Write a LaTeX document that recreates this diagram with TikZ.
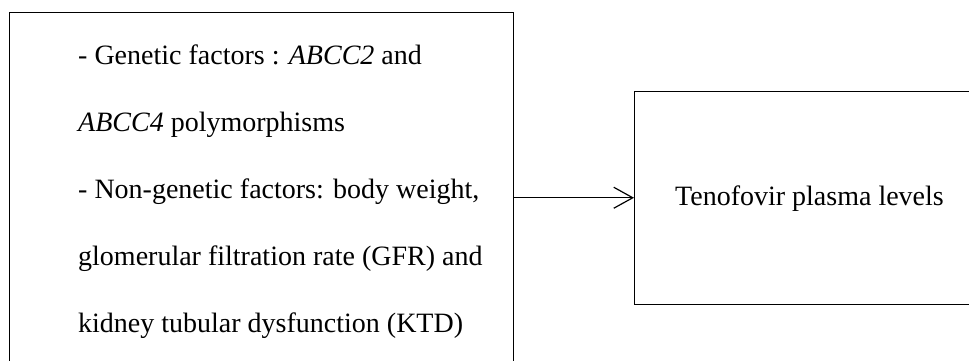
\documentclass[tikz,border=0pt]{standalone}
\usepackage{fontspec}
\setmainfont{Liberation Serif}
\usetikzlibrary{arrows.meta}
\begin{document}
\begin{tikzpicture}[x=1pt,y=-1pt,
  boxshape/.style={draw=black, line width=1pt, rectangle, inner sep=0pt},
  bodytext/.style={font=\fontsize{28}{67}\selectfont},
  flowarrow/.style={draw=black, line width=1.2pt, -{Straight Barb[length=19pt,width=21pt,line width=1.2pt]}}]
\useasboundingbox (0,0) rectangle (969,360);
\clip (0,0) rectangle (969,360);
\node[boxshape, anchor=north west, minimum width=504pt, minimum height=370pt] (factors) at (8.5,12) {};
\node[bodytext, anchor=base west, align=flush left, text width=430pt, inner sep=0pt] (factortext) at (78,64)
  {- Genetic factors : \textit{ABCC2} and\\
   \textit{ABCC4} polymorphisms\\
   - Non-genetic factors: body weight,\\
   glomerular filtration rate (GFR) and\\
   kidney tubular dysfunction (KTD)};
\node[boxshape, bodytext, anchor=north west, minimum width=350pt, minimum height=212.5pt, text height=22pt] (levels) at (634,91) {Tenofovir plasma levels};
\draw[flowarrow] (factors.east |- levels.west) -- (levels.west);
\end{tikzpicture}
\end{document}
